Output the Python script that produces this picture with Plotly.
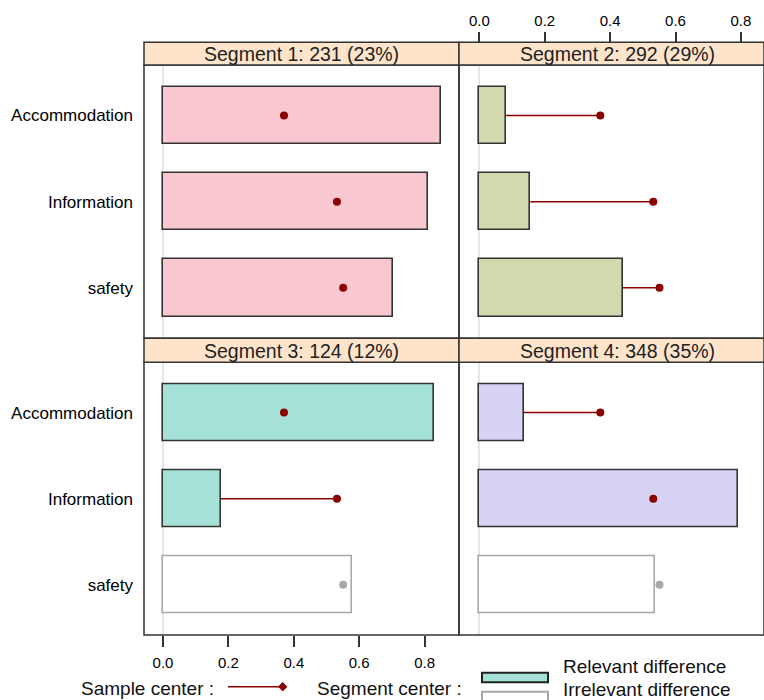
import plotly.graph_objects as go

# ---------------- data ----------------
categories = ["Accommodation", "Information", "safety"]
sample_center = [0.370, 0.532, 0.551]

segment_titles = ["Segment 1: 231 (23%)", "Segment 2: 292 (29%)",
                  "Segment 3: 124 (12%)", "Segment 4: 348 (35%)"]
seg1 = [0.849, 0.811, 0.703]
seg2 = [0.082, 0.156, 0.439]
seg3 = [0.829, 0.176, 0.578]
seg4 = [0.136, 0.790, 0.536]
relevant1 = [True, True, True]
relevant2 = [True, True, True]
relevant3 = [True, True, False]
relevant4 = [True, True, False]

tick_vals = [0.0, 0.2, 0.4, 0.6, 0.8]
tick_text = ["0.0", "0.2", "0.4", "0.6", "0.8"]

seg_colors = ["#F8C7CF", "#D3D8AE", "#A6E1D8", "#D6D3F4"]

# ---------------- layout helpers ----------------
W, H = 764, 700
def px(x):
    return x / W
def py(y):
    return 1 - y / H

FONT = "Liberation Sans, Arial, sans-serif"
DARK = "#333333"
RED = "#8B0000"
GREY = "#A8A8A8"

fig = go.Figure()

segments = [seg1, seg2, seg3, seg4]
relevants = [relevant1, relevant2, relevant3, relevant4]
axes = [("x", "y"), ("x2", "y2"), ("x3", "y3"), ("x4", "y4")]

for i, (vals, rel, (xa, ya)) in enumerate(zip(segments, relevants, axes)):
    fills = [seg_colors[i] if r else "#FFFFFF" for r in rel]
    outlines = [DARK if r else GREY for r in rel]
    fig.add_trace(go.Bar(
        x=vals, y=categories, orientation="h", width=0.667,
        marker=dict(color=fills, line=dict(color=outlines, width=1.6)),
        xaxis=xa, yaxis=ya, showlegend=False, hoverinfo="skip"))
    # connecting lines from segment value to sample center
    lx, ly = [], []
    for v, s, c, r in zip(vals, sample_center, categories, rel):
        if r and s > v:
            lx += [v, s, None]
            ly += [c, c, None]
    if lx:
        fig.add_trace(go.Scatter(
            x=lx, y=ly, mode="lines", line=dict(color=RED, width=1.5),
            xaxis=xa, yaxis=ya, showlegend=False, hoverinfo="skip"))
    dot_colors = [RED if r else GREY for r in rel]
    fig.add_trace(go.Scatter(
        x=sample_center, y=categories, mode="markers",
        marker=dict(color=dot_colors, size=8),
        xaxis=xa, yaxis=ya, showlegend=False, hoverinfo="skip"))

# domains
xdom_left = [px(144), px(459)]
xdom_right = [px(459), 1.0]
ydom_top = [py(338.3), py(65)]
ydom_bot = [py(635), py(362.3)]

xr_left = [-0.0581, 0.9052]
xr_right = [-0.0621, 0.8706]
yrange = [2.585, -0.585]

common_x = dict(showgrid=False, zeroline=True, zerolinecolor="#E6E6E6",
                zerolinewidth=1.5, showline=False, fixedrange=True)
common_y = dict(showgrid=False, zeroline=False, showline=False,
                type="category", categoryarray=categories, range=yrange,
                fixedrange=True)

tickfont = dict(family=FONT, size=15, color="#000000")
ylabfont = dict(family=FONT, size=17, color="#000000")

fig.update_layout(
    width=W, height=H,
    margin=dict(l=0, r=0, t=0, b=0),
    paper_bgcolor="white", plot_bgcolor="white",
    bargap=0,
    xaxis=dict(domain=xdom_left, range=xr_left, anchor="y",
               showticklabels=False, ticks="", **common_x),
    yaxis=dict(domain=ydom_top, anchor="x", showticklabels=True, ticks="",
               ticklabelstandoff=10, tickfont=ylabfont, **common_y),
    xaxis2=dict(domain=xdom_right, range=xr_right, anchor="free",
                position=py(42.3), side="top",
                tickvals=tick_vals, ticktext=tick_text, ticks="outside",
                ticklen=10, tickwidth=1.5, tickcolor=DARK, tickfont=tickfont,
                showticklabels=True, **common_x),
    yaxis2=dict(domain=ydom_top, anchor="x2", showticklabels=False, ticks="",
                **common_y),
    xaxis3=dict(domain=xdom_left, range=xr_left, anchor="y3",
                tickvals=tick_vals, ticktext=tick_text, ticks="outside",
                ticklen=11, tickwidth=1.5, tickcolor=DARK, tickfont=tickfont,
                ticklabelstandoff=3,
                showticklabels=True, **common_x),
    yaxis3=dict(domain=ydom_bot, anchor="x3", showticklabels=True, ticks="",
                ticklabelstandoff=10, tickfont=ylabfont, **common_y),
    xaxis4=dict(domain=xdom_right, range=xr_right, anchor="y4",
                showticklabels=False, ticks="", **common_x),
    yaxis4=dict(domain=ydom_bot, anchor="x4", showticklabels=False, ticks="",
                **common_y),
)

shapes = []
annotations = []

# panel frames
for xa, ya in axes:
    xr = "x domain" if xa == "x" else xa + " domain"
    yr = "y domain" if ya == "y" else ya + " domain"
    shapes.append(dict(type="rect", xref=xr, yref=yr, x0=0, x1=1, y0=0, y1=1,
                       line=dict(color=DARK, width=1.5), layer="above"))

# strips
strip_y = {0: (42.3, 65), 1: (42.3, 65), 2: (338.3, 362.3), 3: (338.3, 362.3)}
strip_cx = [301.5, 617, 301.5, 617]
for i, (xa, ya) in enumerate(axes):
    xr = "x domain" if xa == "x" else xa + " domain"
    y0, y1 = strip_y[i]
    shapes.append(dict(type="rect", xref=xr, yref="paper", x0=0, x1=1,
                       y0=py(y1), y1=py(y0), fillcolor="#FFE4CC",
                       line=dict(color=DARK, width=1.5), layer="above"))
    annotations.append(dict(text=segment_titles[i], xref="paper", yref="paper",
                            x=px(strip_cx[i]), y=py((y0 + y1) / 2 + 0.5),
                            xanchor="center", yanchor="middle", showarrow=False,
                            font=dict(family=FONT, size=19.5, color="#222222")))

# legend (bottom)
leg_font = dict(family=FONT, size=19, color="#111111")
annotations.append(dict(text="Sample center :", xref="paper", yref="paper",
                        x=px(216), y=py(688), xanchor="right", yanchor="middle",
                        showarrow=False, font=leg_font))
shapes.append(dict(type="line", xref="paper", yref="paper",
                   x0=px(228), x1=px(282.7), y0=py(686.7), y1=py(686.7),
                   line=dict(color=RED, width=1.5)))
d = 4.2
shapes.append(dict(type="path", xref="paper", yref="paper",
                   path=f"M {px(282.7-d)},{py(686.7)} L {px(282.7)},{py(686.7-d)} "
                        f"L {px(282.7+d)},{py(686.7)} L {px(282.7)},{py(686.7+d)} Z",
                   fillcolor=RED, line=dict(color=RED, width=1)))
annotations.append(dict(text="Segment center :", xref="paper", yref="paper",
                        x=px(464), y=py(688), xanchor="right", yanchor="middle",
                        showarrow=False, font=leg_font))
shapes.append(dict(type="rect", xref="paper", yref="paper",
                   x0=px(482), x1=px(548), y0=py(682.3), y1=py(672.7),
                   fillcolor=seg_colors[2], line=dict(color="#222222", width=2)))
shapes.append(dict(type="rect", xref="paper", yref="paper",
                   x0=px(482), x1=px(548), y0=py(706), y1=py(691.7),
                   fillcolor="#FFFFFF", line=dict(color=GREY, width=2)))
annotations.append(dict(text="Relevant difference", xref="paper", yref="paper",
                        x=px(561), y=py(666), xanchor="left", yanchor="middle",
                        showarrow=False, font=leg_font))
annotations.append(dict(text="Irrelevant difference", xref="paper", yref="paper",
                        x=px(561), y=py(689.5), xanchor="left", yanchor="middle",
                        showarrow=False, font=leg_font))

fig.update_layout(shapes=shapes, annotations=annotations)

fig.write_html("out.html",
               config={"displayModeBar": False},
               post_script="document.body.style.margin='0';"
                           "document.body.style.overflow='hidden';")
